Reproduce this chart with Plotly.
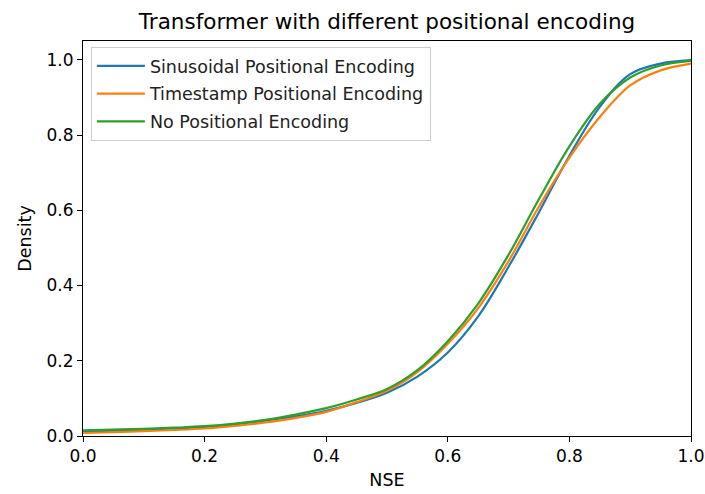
import plotly.graph_objects as go

# NSE grid and cumulative density values for each encoding variant
nse = [0.0, 0.05, 0.1, 0.15, 0.2, 0.25, 0.3, 0.35, 0.4, 0.45, 0.5,
       0.55, 0.6, 0.65, 0.7, 0.75, 0.8, 0.85, 0.9, 0.95, 1.0]

sinusoidal = [0.012, 0.014, 0.017, 0.020, 0.024, 0.031, 0.041, 0.052, 0.067, 0.088, 0.115,
              0.158, 0.222, 0.318, 0.450, 0.595, 0.745, 0.875, 0.962, 0.990, 0.999]
timestamp = [0.008, 0.010, 0.013, 0.016, 0.020, 0.027, 0.036, 0.048, 0.064, 0.090, 0.120,
             0.170, 0.245, 0.340, 0.465, 0.610, 0.740, 0.848, 0.932, 0.972, 0.990]
no_pe = [0.015, 0.017, 0.019, 0.022, 0.026, 0.033, 0.043, 0.057, 0.074, 0.097, 0.125,
         0.175, 0.252, 0.352, 0.482, 0.630, 0.770, 0.883, 0.953, 0.985, 0.997]

series = [
    ("Sinusoidal Positional Encoding", sinusoidal, "#1f77b4"),
    ("Timestamp Positional Encoding", timestamp, "#ff7f0e"),
    ("No Positional Encoding", no_pe, "#2ca02c"),
]

x_ticks = [0.0, 0.2, 0.4, 0.6, 0.8, 1.0]
y_ticks = [0.0, 0.2, 0.4, 0.6, 0.8, 1.0]

font = "DejaVu Sans, Liberation Sans, sans-serif"

fig = go.Figure()
for i, (name, vals, color) in enumerate(series):
    fig.add_trace(go.Scatter(
        x=nse, y=vals, name=name, mode="lines", legendgroup=f"g{i}",
        line=dict(color=color, width=2.2, shape="spline", smoothing=1.0),
    ))

axis_common = dict(
    showgrid=False, zeroline=False, showline=True, mirror=True,
    linecolor="black", linewidth=1, ticks="outside", ticklen=5,
    tickwidth=1, tickcolor="black", automargin=False,
    tickfont=dict(family=font, size=17, color="black"),
)

fig.update_layout(
    width=705, height=494,
    margin=dict(l=83, r=14, t=41, b=58),
    paper_bgcolor="white", plot_bgcolor="white",
    font=dict(family=font, color="black"),
    title=dict(
        text="Transformer with different positional encoding",
        x=(83 + 691) / 2 / 705, xanchor="center",
        y=1 - 21 / 494, yanchor="middle",
        font=dict(family=font, size=21.5, color="black"),
    ),
    xaxis=dict(
        range=[0, 1], tickvals=x_ticks,
        ticktext=[f"{v:.1f}" for v in x_ticks],
        title=dict(text="NSE", font=dict(family=font, size=17.5), standoff=8),
        **axis_common,
    ),
    yaxis=dict(
        range=[0, 1.05], tickvals=y_ticks,
        ticktext=[f"{v:.1f}" for v in y_ticks],
        title=dict(text="Density", font=dict(family=font, size=17.5), standoff=10),
        **axis_common,
    ),
    legend=dict(
        x=0.013, y=0.985, xanchor="left", yanchor="top",
        bgcolor="rgba(255,255,255,0.8)", bordercolor="#cccccc", borderwidth=1,
        font=dict(family=font, size=17.5, color="#222222"),
        traceorder="grouped", tracegroupgap=2, itemwidth=48,
    ),
    showlegend=True,
)

fig.write_html("out.html")
